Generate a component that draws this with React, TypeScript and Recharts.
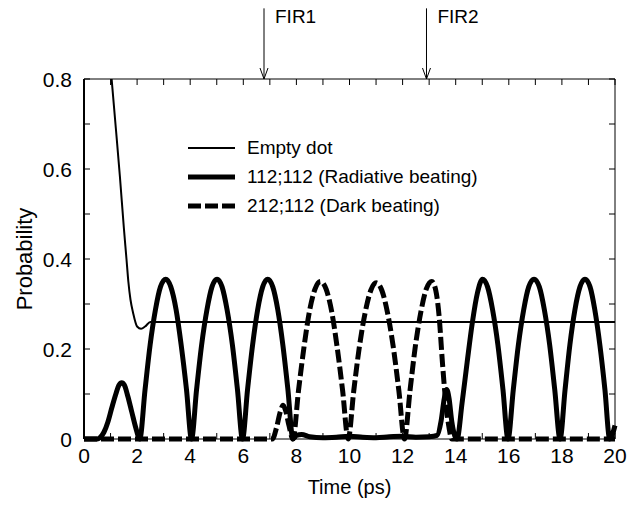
import { Legend, Line, LineChart, ReferenceLine, XAxis, YAxis } from "recharts";

// time axis ticks (ps) and probability ticks
const timeTicks = [0, 1, 2, 3, 4, 5, 6, 7, 8, 9, 10, 11, 12, 13, 14, 15, 16, 17, 18, 19, 20];
const probTicks = [0, 0.1, 0.2, 0.3, 0.4, 0.5, 0.6, 0.7, 0.8];

// Empty dot population
const emptyDot = [
  { t: 1.04, p: 0.8 },
  { t: 1.2, p: 0.69 },
  { t: 1.35, p: 0.585 },
  { t: 1.5, p: 0.47 },
  { t: 1.6, p: 0.4 },
  { t: 1.67, p: 0.35 },
  { t: 1.75, p: 0.31 },
  { t: 1.85, p: 0.28 },
  { t: 2.0, p: 0.25 },
  { t: 2.15, p: 0.245 },
  { t: 2.3, p: 0.25 },
  { t: 2.5, p: 0.26 },
  { t: 20, p: 0.26 },
];

// 112;112 (Radiative beating)
const radiative = [
  { t: 0, p: 0 }, { t: 0.5, p: 0 }, { t: 0.6, p: 0.003 }, { t: 0.75, p: 0.015 },
  { t: 0.9, p: 0.038 }, { t: 1.05, p: 0.07 }, { t: 1.2, p: 0.1 }, { t: 1.32, p: 0.12 },
  { t: 1.42, p: 0.125 }, { t: 1.52, p: 0.12 }, { t: 1.65, p: 0.095 }, { t: 1.8, p: 0.06 },
  { t: 1.95, p: 0.025 }, { t: 2.1, p: 0 },
  { t: 2.3, p: 0.11 }, { t: 2.49, p: 0.209 }, { t: 2.69, p: 0.287 }, { t: 2.88, p: 0.338 },
  { t: 3.08, p: 0.355 }, { t: 3.27, p: 0.338 }, { t: 3.47, p: 0.287 }, { t: 3.66, p: 0.209 },
  { t: 3.86, p: 0.11 }, { t: 4.05, p: 0 },
  { t: 4.24, p: 0.11 }, { t: 4.43, p: 0.209 }, { t: 4.63, p: 0.287 }, { t: 4.82, p: 0.338 },
  { t: 5.01, p: 0.355 }, { t: 5.2, p: 0.338 }, { t: 5.39, p: 0.287 }, { t: 5.59, p: 0.209 },
  { t: 5.78, p: 0.11 }, { t: 5.97, p: 0 },
  { t: 6.16, p: 0.11 }, { t: 6.35, p: 0.209 }, { t: 6.54, p: 0.287 }, { t: 6.73, p: 0.338 },
  { t: 6.92, p: 0.355 }, { t: 7.11, p: 0.338 }, { t: 7.3, p: 0.287 }, { t: 7.49, p: 0.209 },
  { t: 7.68, p: 0.11 }, { t: 7.87, p: 0 },
  { t: 8.0, p: 0.008 }, { t: 8.2, p: 0.01 }, { t: 8.5, p: 0.005 }, { t: 9, p: 0.003 },
  { t: 9.5, p: 0.004 }, { t: 10, p: 0.006 }, { t: 10.5, p: 0.004 }, { t: 11, p: 0.003 },
  { t: 11.5, p: 0.005 }, { t: 12, p: 0.006 }, { t: 12.5, p: 0.004 }, { t: 13, p: 0.005 },
  { t: 13.3, p: 0.008 }, { t: 13.45, p: 0.04 }, { t: 13.57, p: 0.09 }, { t: 13.66, p: 0.11 },
  { t: 13.75, p: 0.09 }, { t: 13.85, p: 0.04 }, { t: 13.95, p: 0.01 }, { t: 14.05, p: 0 },
  { t: 14.24, p: 0.08 }, { t: 14.43, p: 0.17 }, { t: 14.63, p: 0.26 }, { t: 14.82, p: 0.325 },
  { t: 15.01, p: 0.355 }, { t: 15.2, p: 0.338 }, { t: 15.39, p: 0.287 }, { t: 15.59, p: 0.209 },
  { t: 15.78, p: 0.11 }, { t: 15.97, p: 0 },
  { t: 16.17, p: 0.11 }, { t: 16.36, p: 0.209 }, { t: 16.56, p: 0.287 }, { t: 16.75, p: 0.338 },
  { t: 16.95, p: 0.355 }, { t: 17.15, p: 0.338 }, { t: 17.34, p: 0.287 }, { t: 17.54, p: 0.209 },
  { t: 17.73, p: 0.11 }, { t: 17.93, p: 0 },
  { t: 18.12, p: 0.11 }, { t: 18.3, p: 0.209 }, { t: 18.49, p: 0.287 }, { t: 18.68, p: 0.338 },
  { t: 18.87, p: 0.355 }, { t: 19.06, p: 0.338 }, { t: 19.24, p: 0.287 }, { t: 19.43, p: 0.209 },
  { t: 19.62, p: 0.11 }, { t: 19.8, p: 0 }, { t: 20, p: 0.03 },
];

// 212;112 (Dark beating)
const dark = [
  { t: 0, p: 0 }, { t: 7.1, p: 0 }, { t: 7.25, p: 0.025 }, { t: 7.4, p: 0.062 },
  { t: 7.5, p: 0.075 }, { t: 7.6, p: 0.062 }, { t: 7.72, p: 0.03 }, { t: 7.87, p: 0 },
  { t: 8.08, p: 0.108 }, { t: 8.29, p: 0.206 }, { t: 8.49, p: 0.283 }, { t: 8.7, p: 0.333 },
  { t: 8.91, p: 0.35 }, { t: 9.12, p: 0.333 }, { t: 9.33, p: 0.283 }, { t: 9.53, p: 0.206 },
  { t: 9.74, p: 0.108 }, { t: 9.95, p: 0 },
  { t: 10.16, p: 0.107 }, { t: 10.37, p: 0.204 }, { t: 10.59, p: 0.281 }, { t: 10.8, p: 0.33 },
  { t: 11.01, p: 0.347 }, { t: 11.22, p: 0.33 }, { t: 11.43, p: 0.281 }, { t: 11.65, p: 0.204 },
  { t: 11.86, p: 0.107 }, { t: 12.07, p: 0 },
  { t: 12.28, p: 0.108 }, { t: 12.48, p: 0.206 }, { t: 12.69, p: 0.283 }, { t: 12.89, p: 0.333 },
  { t: 13.1, p: 0.35 }, { t: 13.25, p: 0.33 }, { t: 13.38, p: 0.27 }, { t: 13.5, p: 0.17 },
  { t: 13.62, p: 0.085 }, { t: 13.75, p: 0.025 }, { t: 13.85, p: 0 }, { t: 20, p: 0 },
];

// FIR pulse arrows above the plot
const pulses = [
  { t: 6.78, name: "FIR1" },
  { t: 12.9, name: "FIR2" },
];
const pulseTop = 0.957;

const font = "'Liberation Sans', Arial, Helvetica, sans-serif";

// plot box (pixels) from the chart margins
const W = 643;
const H = 506;
const margin = { top: 79, right: 28, bottom: 27, left: 24 };
const PLOT_TOP = margin.top;
const PLOT_RIGHT = W - margin.right;
const TICK = 6;

const legendRows = [
  { label: "Empty dot", width: 2, dash: undefined },
  { label: "112;112 (Radiative beating)", width: 5, dash: undefined },
  { label: "212;112 (Dark beating)", width: 5, dash: "13 4" },
];

function LegendBox() {
  return (
    <div style={{ fontFamily: font, fontSize: 19, color: "#000" }}>
      {legendRows.map((r) => (
        <div key={r.label} style={{ display: "flex", alignItems: "center", height: 29 }}>
          <svg width={47} height={10}>
            <line x1={0} y1={5} x2={47} y2={5} stroke="#000" strokeWidth={r.width} strokeDasharray={r.dash} />
          </svg>
          <span style={{ marginLeft: 12, lineHeight: "29px", whiteSpace: "nowrap" }}>{r.label}</span>
        </div>
      ))}
    </div>
  );
}

const arrowShape = (name: string) => (props: any) => {
  const { x1, y1, y2 } = props;
  const top = Math.min(y1, y2);
  const bottom = Math.max(y1, y2);
  return (
    <g>
      <line x1={x1} y1={top} x2={x1} y2={bottom} stroke="#000" strokeWidth={1} />
      <polyline
        points={`${x1 - 4},${bottom - 11} ${x1},${bottom} ${x1 + 4},${bottom - 11}`}
        fill="none"
        stroke="#000"
        strokeWidth={1}
      />
      <text x={x1 + 11} y={top + 15} fontSize={19} fontFamily={font} fill="#000">
        {name}
      </text>
    </g>
  );
};

const X_MARGIN = 8;
const Y_MARGIN = 12;

// bottom tick: inward tick on bottom and top frame + label on even values
function TimeTick(props: any) {
  const { x, y, payload } = props;
  const axisY = y - X_MARGIN;
  const v = payload.value as number;
  return (
    <g>
      <line x1={x} y1={axisY} x2={x} y2={axisY - TICK} stroke="#000" />
      <line x1={x} y1={PLOT_TOP} x2={x} y2={PLOT_TOP + TICK} stroke="#000" />
      {v % 2 === 0 && (
        <text x={x} y={axisY + 24} textAnchor="middle" fontSize={21} fontFamily={font} fill="#000">
          {String(v)}
        </text>
      )}
    </g>
  );
}

// left tick: inward tick on left and right frame + label every 0.2
function ProbTick(props: any) {
  const { x, y, payload } = props;
  const axisX = x + Y_MARGIN;
  const k = Math.round((payload.value as number) * 10);
  return (
    <g>
      <line x1={axisX} y1={y} x2={axisX + TICK} y2={y} stroke="#000" />
      <line x1={PLOT_RIGHT} y1={y} x2={PLOT_RIGHT - TICK} y2={y} stroke="#000" />
      {k % 2 === 0 && (
        <text x={axisX - 12} y={y + 8} textAnchor="end" fontSize={21} fontFamily={font} fill="#000">
          {k === 0 ? "0" : (k / 10).toFixed(1)}
        </text>
      )}
    </g>
  );
}

export default function App() {
  return (
    <div style={{ position: "absolute", left: 0, top: 0, width: W, height: H, background: "#fff", fontFamily: font }}>
      <LineChart width={W} height={H} margin={margin}>
        <XAxis
          dataKey="t"
          type="number"
          domain={[0, 20]}
          ticks={timeTicks}
          interval={0}
          height={40}
          tickSize={0}
          tickMargin={X_MARGIN}
          tick={<TimeTick />}
          tickLine={false}
          axisLine={{ stroke: "#000", strokeWidth: 1 }}
          label={{ value: "Time (ps)", position: "bottom", offset: 1, fill: "#000", fontSize: 20, fontFamily: font }}
        />
        <YAxis
          type="number"
          domain={[0, 0.8]}
          ticks={probTicks}
          interval={0}
          width={60}
          tickSize={0}
          tickMargin={Y_MARGIN}
          tick={<ProbTick />}
          tickLine={false}
          axisLine={{ stroke: "#000", strokeWidth: 2 }}
          label={{
            value: "Probability",
            angle: -90,
            position: "insideLeft",
            offset: 0,
            fill: "#000",
            fontSize: 22,
            fontFamily: font,
            style: { textAnchor: "middle" },
          }}
        />
        <ReferenceLine y={0.8} stroke="#000" strokeWidth={1} ifOverflow="visible" />
        <ReferenceLine x={20} stroke="#000" strokeWidth={1} ifOverflow="visible" />
        <Legend
          content={<LegendBox />}
          layout="vertical"
          align="center"
          verticalAlign="middle"
          wrapperStyle={{ left: 188, top: 133, width: 330 }}
        />
        <Line
          data={emptyDot}
          dataKey="p"
          type="monotone"
          stroke="#000"
          strokeWidth={2}
          dot={false}
          isAnimationActive={false}
        />
        <Line
          data={dark}
          dataKey="p"
          type="monotone"
          stroke="#000"
          strokeWidth={5}
          strokeDasharray="13 4"
          dot={false}
          isAnimationActive={false}
        />
        <Line
          data={radiative}
          dataKey="p"
          type="monotone"
          stroke="#000"
          strokeWidth={5}
          dot={false}
          isAnimationActive={false}
        />
        {pulses.map((f) => (
          <ReferenceLine
            key={f.name}
            segment={[
              { x: f.t, y: pulseTop },
              { x: f.t, y: 0.8 },
            ]}
            ifOverflow="visible"
            shape={arrowShape(f.name)}
          />
        ))}
      </LineChart>
    </div>
  );
}
